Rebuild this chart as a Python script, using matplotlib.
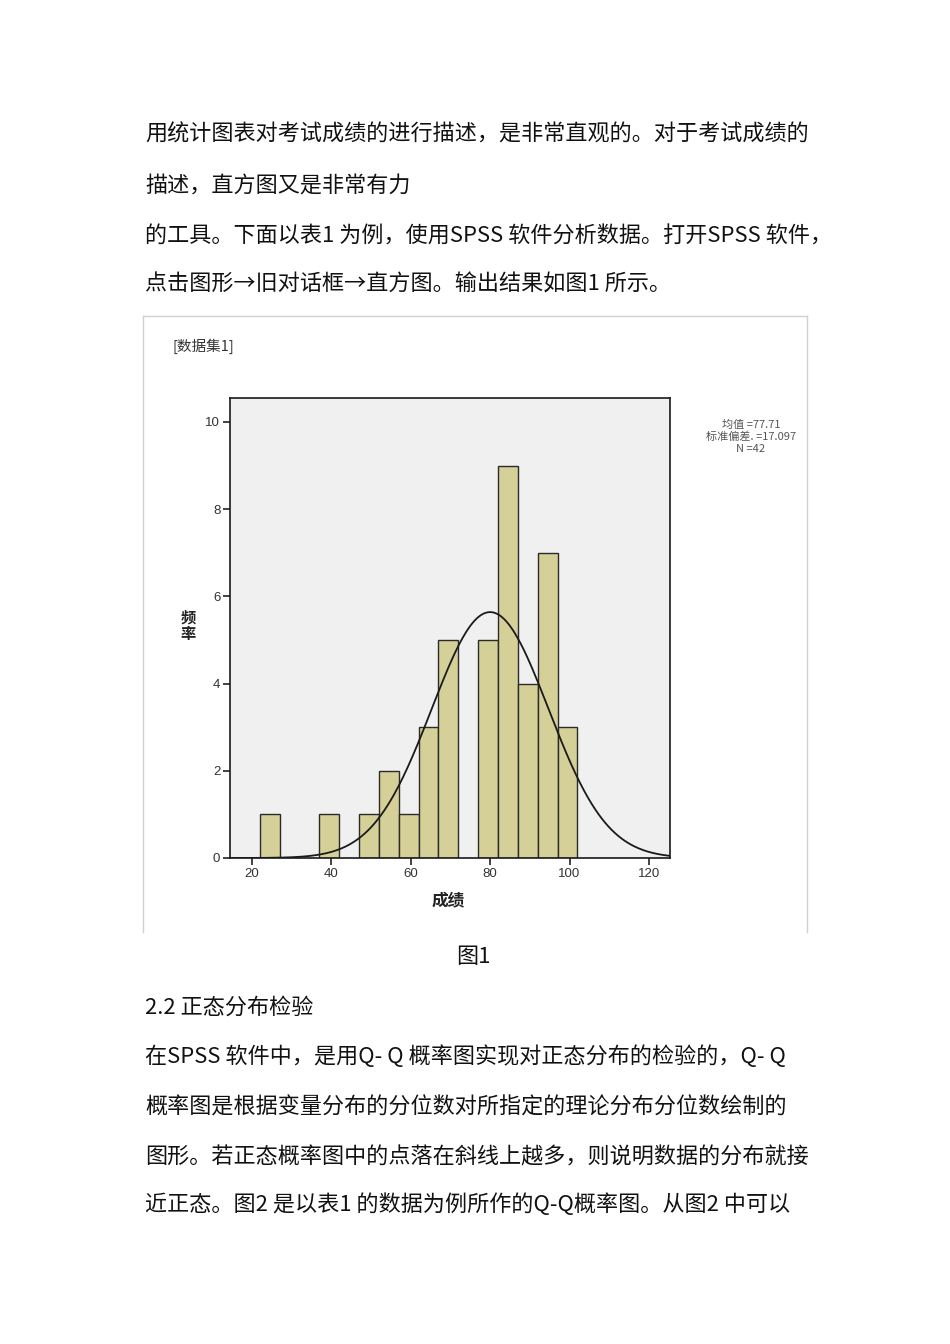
import numpy as np
import matplotlib
matplotlib.use('Agg')
import matplotlib.pyplot as plt
from matplotlib.lines import Line2D

plt.rcParams['font.family'] = ['Noto Sans CJK SC', 'DejaVu Sans']

# histogram data (bin width 5)
bin_starts = [22, 27, 32, 37, 42, 47, 52, 57, 62, 67, 72, 77, 82, 87, 92, 97]
counts = [1, 0, 0, 1, 0, 1, 2, 1, 3, 5, 0, 5, 9, 4, 7, 3]
bin_width = 5

# normal curve as drawn in the picture
curve_mean = 80.0
curve_sd = 14.7
curve_peak = 5.64

stats_lines = ['均值 =77.71', '标准偏差. =17.097', 'N =42']
x_ticks = [20, 40, 60, 80, 100, 120]
y_ticks = [0, 2, 4, 6, 8, 10]

para_top = [
    '用统计图表对考试成绩的进行描述，是非常直观的。对于考试成绩的',
    '描述，直方图又是非常有力',
    '的工具。下面以表1 为例，使用SPSS 软件分析数据。打开SPSS 软件，',
    '点击图形→旧对话框→直方图。输出结果如图1 所示。',
]
para_bottom = [
    '在SPSS 软件中，是用Q- Q 概率图实现对正态分布的检验的，Q- Q',
    '概率图是根据变量分布的分位数对所指定的理论分布分位数绘制的',
    '图形。若正态概率图中的点落在斜线上越多，则说明数据的分布就接',
    '近正态。图2 是以表1 的数据为例所作的Q-Q概率图。从图2 中可以',
]

W, H = 950, 1344
fig = plt.figure(figsize=(W / 100, H / 100), dpi=100)
fig.patch.set_facecolor('white')


def fx(px):
    return px / W


def fy(py):
    return 1 - py / H


text_size = 15.9
for txt, py in zip(para_top, [135, 187, 237, 284]):
    fig.text(fx(145), fy(py), txt, fontsize=text_size, va='center', ha='left', color='#111111')

fig.text(fx(473), fy(957), '图1', fontsize=text_size, va='center', ha='center', color='#111111')
fig.text(fx(145), fy(1008), '2.2 正态分布检验', fontsize=text_size, va='center', ha='left', color='#111111')
for txt, py in zip(para_bottom, [1057, 1108, 1157, 1205]):
    fig.text(fx(145), fy(py), txt, fontsize=text_size, va='center', ha='left', color='#111111')

# frame of the pasted chart image
frame_col = '#d0d0d0'
fig.add_artist(Line2D([fx(143), fx(143)], [fy(316), fy(932)], color=frame_col, lw=1))
fig.add_artist(Line2D([fx(807), fx(807)], [fy(316), fy(932)], color=frame_col, lw=1))
fig.add_artist(Line2D([fx(143), fx(807)], [fy(316), fy(316)], color=frame_col, lw=1))

fig.text(fx(172), fy(346), '[数据集1]', fontsize=10.5, va='center', ha='left', color='#333333')

ax = fig.add_axes([fx(230), fy(858), fx(670) - fx(230), (858 - 398) / H])
ax.set_facecolor('#f0f0f0')

starts = [s for s, c in zip(bin_starts, counts) if c > 0]
heights = [c for c in counts if c > 0]
ax.bar(starts, heights, width=bin_width, align='edge', color='#d5cf98',
       edgecolor='#2b2b2b', linewidth=1.0, zorder=2)

xs = np.linspace(14.5, 125.3, 400)
ys = curve_peak * np.exp(-0.5 * ((xs - curve_mean) / curve_sd) ** 2)
ax.plot(xs, ys, color='#1a1a1a', lw=1.3, zorder=3)

ax.set_xlim(14.5, 125.3)
ax.set_ylim(0, 10.55)
ax.set_xticks(x_ticks)
ax.set_yticks(y_ticks)
ax.tick_params(axis='both', direction='out', length=5, width=1.2, colors='#222222',
               labelsize=9.5, labelcolor='#333333', pad=2)
for lab in ax.get_xticklabels() + ax.get_yticklabels():
    lab.set_family(['Liberation Sans', 'DejaVu Sans'])
for sp in ax.spines.values():
    sp.set_color('#1a1a1a')
    sp.set_linewidth(1.2)

fig.text(fx(448), fy(900), '成绩', fontsize=12, fontweight='bold', va='center', ha='center', color='#222222')
fig.text(fx(188), fy(626), '频\n率', fontsize=11, fontweight='bold', va='center', ha='center',
         color='#222222', linespacing=1.0)

for txt, py in zip(stats_lines, [425, 437, 449]):
    fig.text(fx(751), fy(py), txt, fontsize=8, va='center', ha='center', color='#555555',
             family=['Noto Sans CJK SC', 'DejaVu Sans'])

fig.savefig('out.png', dpi=100, facecolor='white')
